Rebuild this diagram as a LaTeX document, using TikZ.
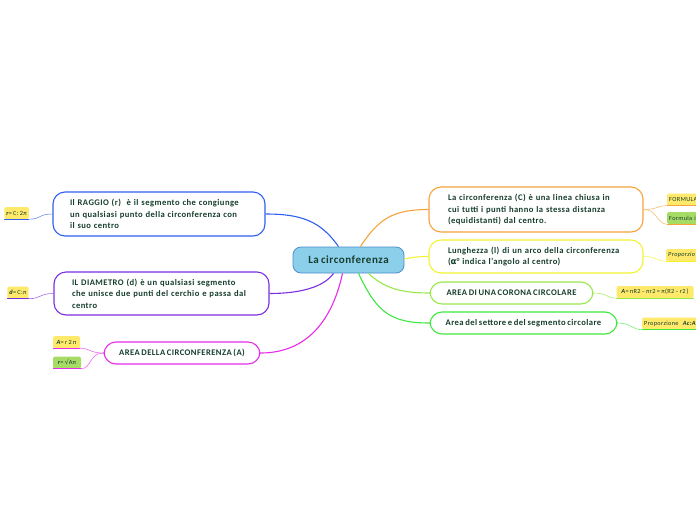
\documentclass[tikz,border=0pt]{standalone}
\usepackage{fontspec}
\setmainfont{Carlito}[LetterSpace=5, WordSpace=0.7]
\newfontfamily\symf{DejaVu Sans}
\usetikzlibrary{positioning}
\definecolor{ink}{RGB}{22,62,44}
\definecolor{hubfill}{RGB}{140,207,234}
\definecolor{hubline}{RGB}{74,141,200}
\definecolor{mblue}{RGB}{47,95,240}
\definecolor{mpurple}{RGB}{123,47,224}
\definecolor{mmagenta}{RGB}{232,43,232}
\definecolor{morange}{RGB}{245,163,58}
\definecolor{myellow}{RGB}{242,242,48}
\definecolor{mlime}{RGB}{152,232,74}
\definecolor{mgreen}{RGB}{62,232,62}
\definecolor{leafyel}{RGB}{255,233,107}
\definecolor{leafgrn}{RGB}{166,220,102}

\begin{document}
\begin{tikzpicture}[x=1pt, y=-1pt,
    hub/.style={rectangle, draw=hubline, fill=hubfill, rounded corners=8pt, line width=0.8pt, minimum width=111, minimum height=26, font=\bfseries\fontsize{11}{12}\selectfont, text=ink},
    topic/.style={rectangle, draw, fill=white, rounded corners=12pt, line width=1.1pt, font=\bfseries\fontsize{8.6}{11.5}\selectfont, text=ink, align=left, inner xsep=0pt, inner ysep=2pt},
    leaf/.style={rectangle, fill=leafyel, rounded corners=1.5pt, font=\fontsize{6.3}{7}\selectfont, text=ink, inner xsep=2pt, inner ysep=0pt, minimum height=12},
    link/.style={line width=1.1pt},
    twig/.style={line width=0.6pt},
]
\clip (0,0) rectangle (696,520);

\node[hub] (center) at (348.5,260) {La circonferenza};

\node[topic, draw=mblue, minimum width=212, minimum height=44, text width=178] (raggio) at (159,214) {Il RAGGIO (r)~ è il segmento che congiunge\\un qualsiasi punto della circonferenza con\\il suo centro};
\node[topic, draw=mpurple, minimum width=215, minimum height=43, text width=179] (diametro) at (161.5,293.5) {IL DIAMETRO (d) è un qualsiasi segmento\\che unisce due punti del cerchio e passa dal\\centro};
\node[topic, draw=mmagenta, minimum width=156, minimum height=22, align=center] (area) at (182,353) {AREA DELLA CIRCONFERENZA (A)};

\node[topic, draw=morange, minimum width=214, minimum height=45, text width=176] (circ) at (536,209.5) {La circonferenza (C) è una linea chiusa in\\cui tutti i punti hanno la stessa distanza\\(equidistanti) dal centro.};
\node[topic, draw=myellow, minimum width=214, minimum height=33, text width=176] (arco) at (536,256.5) {Lunghezza (l) di un arco della circonferenza\\({\symf α}° indica l'angolo al centro)};
\node[topic, draw=mlime, minimum width=163, minimum height=22, align=center] (corona) at (511.5,293) {AREA DI UNA CORONA CIRCOLARE};
\node[topic, draw=mgreen, minimum width=187, minimum height=22, align=center] (settore) at (523.5,323) {Area del settore e del segmento circolare};

\node[leaf, anchor=east] (rform) at (29,213) {\textbf{\textit{r}}= C: 2π};
\node[leaf] (dform) at (18,292.5) {\textbf{\textit{d}}= C:π};
\node[leaf, minimum width=27] (aform) at (66.5,342) {\textbf{\textit{A}}= r 2 π};
\node[leaf, fill=leafgrn, minimum width=28] (rrform) at (67,362.5) {\textbf{\textit{r}}= {\symf √}Aπ};

\node[leaf, anchor=west, text width=40, align=left] (formula1) at (667,199.5) {FORMULA};
\node[leaf, anchor=west, fill=leafgrn, text width=40, align=left] (formula2) at (667,218) {Formula i};
\node[leaf, anchor=west, text width=40, align=left] (proparco) at (666,255) {\textit{Proporzio}};
\node[leaf, minimum width=77] (coronaform) at (655,292) {\textbf{\textit{A}}= πR2 – πr2 = π(R2 – r2 )};
\node[leaf, anchor=west, text width=60, align=left] (propsett) at (642,323.5) {Proporzione~ \textbf{\textit{Ac:A}}};

\foreach \n/\c in {rform/mblue, dform/mpurple, aform/mmagenta, rrform/mmagenta, formula1/morange, formula2/morange, proparco/myellow, coronaform/mlime, propsett/mgreen}
  \draw[\c, line width=1.2pt] (\n.south west) -- (\n.south east);

\draw[link, mblue] ([xshift=-10pt]center.north) .. controls +(-18,-26) and +(35,0) .. (raggio.east);
\draw[link, mpurple] ([xshift=-15pt]center.south) .. controls +(-10,14) and +(30,0) .. (diametro.east);
\draw[link, mmagenta] ([xshift=-6pt]center.south) .. controls +(-12,55) and +(40,0) .. (area.east);
\draw[link, morange] ([xshift=12pt]center.north) .. controls +(18,-28) and +(-35,0) .. (circ.west);
\draw[link, myellow] ([yshift=1pt]center.east) .. controls +(10,-2) and +(-10,0) .. (arco.west);
\draw[link, mlime] ([xshift=20pt]center.south) .. controls +(15,14) and +(-30,0) .. (corona.west);
\draw[link, mgreen] ([xshift=10pt]center.south) .. controls +(18,38) and +(-40,0) .. (settore.west);

\draw[twig, mblue!70] (raggio.west) .. controls +(-14,0) and +(12,0) .. (rform.south east);
\draw[twig, mpurple!70] (diametro.west) .. controls +(-14,0) and +(12,0) .. (dform.south east);
\draw[twig, mmagenta!70] (area.west) .. controls +(-14,0) and +(10,0) .. (aform.south east);
\draw[twig, mmagenta!70] (area.west) .. controls +(-14,0) and +(10,0) .. (rrform.south east);
\draw[twig, morange!70] (circ.east) .. controls +(14,0) and +(-10,0) .. (formula1.south west);
\draw[twig, morange!70] (circ.east) .. controls +(14,0) and +(-10,0) .. (formula2.south west);
\draw[twig, myellow!80] (arco.east) .. controls +(14,0) and +(-10,0) .. (proparco.south west);
\draw[twig, mlime!80] (corona.east) .. controls +(14,0) and +(-10,0) .. (coronaform.south west);
\draw[twig, mgreen!70] (settore.east) .. controls +(14,0) and +(-10,0) .. (propsett.south west);
\end{tikzpicture}
\end{document}
